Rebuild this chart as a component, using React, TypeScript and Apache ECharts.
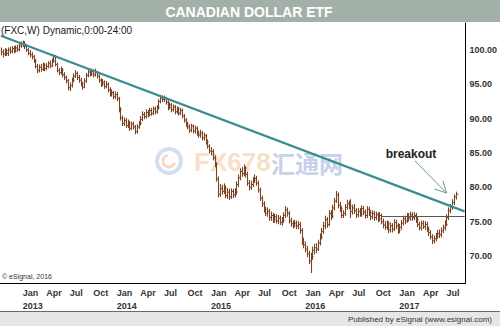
import React, { useEffect, useRef } from 'react';
import * as echarts from 'echarts';

// ---- data (weekly bars of FXC) ----
const firstWeekStart = '2012-10-08'; // Monday of first weekly bar
const weekCount = 257; // weeks spanned by the x axis

const closes = [
  99.7, 99.4, 99.9, 99.5, 100.0, 99.8, 100.2, 99.9, 100.3, 100.1, 100.6, 100.8,
  100.9, 100.5, 100.0, 99.5, 99.3, 99.0, 98.4, 97.6, 97.0, 97.5, 97.2, 97.8, 97.3,
  97.6, 98.0, 97.7, 98.4, 99.0, 97.9, 97.0, 96.7, 97.1, 96.4, 96.0, 95.5, 94.5,
  94.8, 95.6, 96.2, 96.6, 96.0, 95.6, 95.1, 94.6, 95.5, 96.3, 96.8, 96.5, 96.9,
  96.4, 96.7, 96.2, 95.6, 95.0, 95.3, 94.7, 95.0, 94.2, 93.6, 93.8, 93.2, 93.5,
  92.9, 91.3, 90.1, 89.3, 89.7, 89.0, 89.4, 88.6, 89.2, 88.8, 88.1, 88.8, 89.3,
  89.9, 90.6, 90.3, 90.9, 90.6, 91.2, 90.8, 91.4, 91.0, 91.6, 92.5, 93.0, 92.8,
  92.9, 92.4, 91.6, 92.0, 91.3, 91.7, 91.0, 91.4, 90.8, 91.2, 90.4, 89.8, 89.2,
  88.8, 88.3, 88.9, 88.2, 88.6, 87.9, 87.6, 87.9, 87.2, 87.5, 86.6, 86.0, 85.3,
  85.2, 84.3, 83.3, 81.2, 79.0, 79.8, 79.4, 79.9, 78.8, 79.3, 78.6, 79.4, 78.9,
  79.3, 80.4, 81.4, 82.3, 82.0, 82.8, 81.9, 80.6, 80.0, 80.4, 81.0, 81.3, 80.6,
  79.6, 78.4, 77.6, 76.8, 76.2, 76.5, 75.6, 75.9, 75.3, 75.7, 75.1, 75.5, 74.9,
  75.2, 75.9, 76.7, 76.2, 75.1, 74.7, 74.5, 74.8, 74.4, 74.6, 73.7, 72.1, 71.6,
  71.0, 70.3, 69.3, 69.9, 70.8, 71.2, 71.0, 71.9, 72.8, 73.6, 74.4, 75.3, 74.6,
  76.2, 75.8, 77.0, 78.0, 78.9, 77.4, 76.9, 75.9, 76.2, 77.1, 77.6, 77.3, 76.5,
  77.0, 76.6, 76.0, 76.5, 76.1, 76.9, 76.4, 75.9, 76.8, 76.3, 75.7, 76.2, 75.6,
  76.0, 75.4, 75.9, 75.0, 74.5, 74.2, 74.7, 73.8, 74.4, 73.9, 74.9, 74.4, 73.7,
  74.2, 74.8, 75.4, 75.1, 75.8, 75.5, 76.0, 75.6, 75.9, 75.3, 74.6, 74.1, 74.7,
  74.3, 74.6, 73.9, 73.4, 72.8, 72.2, 72.5, 72.9, 73.3, 73.1, 73.7, 74.1, 74.6,
  75.6, 76.6, 77.1, 77.8, 78.6, 79.0,
];

const highs = [
  100.3, 100.0, 100.2, 100.1, 100.3, 100.4, 100.5, 100.5, 100.6, 100.7, 100.9, 101.2,
  101.3, 101.2, 100.8, 100.2, 99.9, 99.6, 99.2, 98.6, 97.9, 97.8, 97.9, 98.1, 98.0,
  98.0, 98.3, 98.4, 98.7, 99.3, 99.2, 98.1, 97.3, 97.5, 97.3, 96.7, 96.2, 95.7,
  95.2, 95.9, 96.5, 97.0, 96.8, 96.3, 95.9, 95.3, 95.8, 96.6, 97.1, 97.1, 97.2,
  97.1, 97.2, 96.9, 96.4, 95.8, 95.7, 95.5, 95.4, 95.2, 94.5, 94.2, 94.0, 93.9,
  93.8, 93.1, 91.6, 90.4, 90.1, 90.0, 89.8, 89.6, 89.5, 89.5, 89.0, 89.1, 89.6,
  90.3, 91.0, 90.9, 91.3, 91.2, 91.5, 91.5, 91.7, 91.7, 91.9, 92.8, 93.4, 93.3,
  93.3, 93.1, 92.6, 92.3, 92.2, 92.0, 91.9, 91.7, 91.6, 91.5, 91.4, 90.6, 90.0,
  89.5, 89.1, 89.2, 89.1, 88.9, 88.8, 88.2, 88.3, 88.1, 87.9, 87.7, 86.9, 86.2,
  85.8, 85.5, 84.6, 83.6, 81.5, 80.4, 80.3, 80.5, 80.2, 79.8, 79.7, 79.8, 79.7,
  79.8, 80.8, 81.8, 82.7, 82.9, 83.3, 83.0, 82.2, 81.0, 80.9, 81.4, 81.8, 81.6,
  80.9, 79.9, 78.7, 77.9, 77.1, 77.0, 76.8, 76.4, 76.2, 76.1, 76.0, 75.9, 75.8,
  75.6, 76.3, 77.2, 77.0, 76.5, 75.5, 75.1, 75.2, 75.1, 75.0, 74.9, 74.0, 72.6,
  72.0, 71.4, 70.7, 70.4, 71.3, 71.7, 71.8, 72.3, 73.2, 74.0, 74.9, 75.8, 75.6,
  76.6, 76.6, 77.4, 78.4, 79.4, 79.2, 77.8, 77.2, 76.6, 77.5, 78.1, 78.0, 78.2,
  77.4, 77.5, 76.9, 76.9, 76.9, 77.3, 77.2, 76.7, 77.2, 77.1, 76.6, 76.6, 76.5,
  76.4, 76.3, 76.3, 76.1, 75.4, 75.0, 75.1, 75.0, 74.8, 74.7, 75.3, 75.2, 74.7,
  74.6, 75.2, 75.8, 75.8, 76.2, 76.2, 76.4, 76.3, 76.3, 76.2, 75.6, 74.9, 75.1,
  75.1, 75.0, 74.9, 74.2, 73.7, 73.1, 72.9, 73.3, 73.7, 73.8, 74.1, 74.5, 75.1,
  76.0, 77.0, 77.5, 78.2, 78.9, 79.3,
];

const lows = [
  99.3, 99.0, 99.2, 99.2, 99.2, 99.5, 99.6, 99.6, 99.7, 99.8, 99.9, 100.4,
  100.5, 100.2, 99.8, 99.3, 99.0, 98.7, 98.2, 97.4, 96.7, 96.8, 96.9, 97.0, 97.0,
  97.1, 97.4, 97.4, 97.6, 98.2, 97.7, 96.8, 96.4, 96.5, 96.1, 95.7, 95.2, 94.2,
  94.1, 94.6, 95.4, 96.0, 95.7, 95.3, 94.8, 94.3, 94.5, 95.3, 96.1, 96.2, 96.3,
  96.1, 96.2, 95.9, 95.3, 94.7, 94.8, 94.4, 94.5, 93.9, 93.3, 93.3, 92.9, 92.9,
  92.6, 91.0, 89.8, 89.0, 89.0, 88.7, 88.7, 88.3, 88.4, 88.5, 87.8, 87.9, 88.6,
  89.1, 89.7, 90.0, 90.1, 90.3, 90.4, 90.5, 90.6, 90.7, 90.8, 91.4, 92.3, 92.5,
  92.5, 92.1, 91.3, 91.4, 91.0, 91.1, 90.7, 90.8, 90.5, 90.6, 90.1, 89.5, 88.9,
  88.5, 88.0, 88.1, 87.9, 87.9, 87.6, 87.3, 87.3, 86.9, 86.9, 86.3, 85.7, 85.0,
  84.7, 84.0, 83.0, 80.9, 78.6, 78.7, 79.0, 79.1, 78.5, 78.4, 78.2, 78.4, 78.5,
  78.6, 79.0, 80.1, 81.1, 81.6, 81.7, 81.5, 80.3, 79.6, 79.7, 80.1, 80.7, 80.3,
  79.3, 78.1, 77.2, 76.4, 75.9, 75.8, 75.2, 75.2, 74.9, 74.9, 74.8, 74.7, 74.6,
  74.5, 74.9, 75.6, 75.8, 74.8, 74.3, 74.1, 74.2, 74.0, 74.0, 73.3, 71.7, 71.2,
  70.6, 69.9, 68.9, 67.6, 69.5, 70.3, 70.5, 70.8, 71.6, 72.5, 73.3, 74.0, 74.2,
  74.4, 75.3, 75.6, 76.7, 77.8, 77.0, 76.5, 75.6, 75.6, 75.9, 76.8, 76.9, 75.6,
  76.1, 76.2, 75.6, 75.7, 75.8, 75.8, 76.0, 75.5, 75.6, 75.9, 75.3, 75.4, 75.2,
  75.3, 75.0, 75.1, 74.7, 74.1, 73.9, 73.9, 73.4, 73.5, 73.5, 73.7, 74.0, 73.3,
  73.4, 73.9, 74.5, 74.7, 74.9, 75.1, 75.2, 75.2, 75.3, 74.9, 74.3, 73.8, 73.8,
  74.0, 73.9, 73.6, 73.0, 72.5, 71.8, 71.9, 72.2, 72.6, 72.7, 72.8, 73.4, 73.8,
  74.4, 75.3, 76.3, 76.8, 77.5, 78.3,
];

const yMin = 66.07;
const yMax = 103.93;
const yStep = 5;
const quarterNames = ['Jan', 'Apr', 'Jul', 'Oct'];
const trendLine = [102.06, 76.5]; // at first and last week of the axis
const supportLevel = 75.75;
const supportStartWeek = 210;

// ---- helpers ----
const DAY = 86400000;
const weeks: string[] = [];
{
  const start = new Date(firstWeekStart + 'T00:00:00Z').getTime();
  for (let i = 0; i < weekCount; i++) {
    weeks.push(new Date(start + i * 7 * DAY).toISOString().slice(0, 10));
  }
}

function quarterLabel(v: string): string | null {
  const d = new Date(v + 'T00:00:00Z').getTime();
  const sun = new Date(d + 6 * DAY);
  if (sun.getUTCDate() > 7) return null;
  const m = sun.getUTCMonth();
  if (m % 3 !== 0) return null;
  const name = quarterNames[m / 3];
  return m === 0 ? name + '\n' + sun.getUTCFullYear() : name;
}

const FONT = '"Liberation Sans", Arial, Helvetica, sans-serif';
const BAR_COLOR = '#7a4323';

export default function App() {
  const ref = useRef<HTMLDivElement>(null);

  useEffect(() => {
    if (!ref.current) return;
    const chart = echarts.init(ref.current, null, { renderer: 'svg' });

    const barData = closes.map((c, i) => [i, lows[i], highs[i], c]);
    const lastIdx = weekCount - 1;

    chart.setOption({
      animation: false,
      backgroundColor: '#ffffff',
      textStyle: { fontFamily: FONT },
      grid: { left: 0, top: 23, right: 33.5, bottom: 43, containLabel: false },
      xAxis: {
        type: 'category',
        data: weeks,
        boundaryGap: true,
        axisLine: { show: true, lineStyle: { color: '#000', width: 1 } },
        axisTick: { show: false },
        splitLine: { show: false },
        axisLabel: {
          interval: (_i: number, v: string) => quarterLabel(v) !== null,
          formatter: (v: string) => quarterLabel(v) || '',
          align: 'left',
          margin: 3,
          fontSize: 9,
          fontWeight: 'bold',
          color: '#333',
          lineHeight: 13,
          fontFamily: FONT,
        },
      },
      yAxis: {
        type: 'value',
        position: 'right',
        min: yMin,
        max: yMax,
        splitNumber: 7,
        scale: true,
        axisLine: { show: true, lineStyle: { color: '#000', width: 1 } },
        axisTick: { show: false },
        splitLine: { show: false },
        axisLabel: {
          margin: 4,
          fontSize: 9,
          fontWeight: 'bold',
          color: '#333',
          fontFamily: FONT,
          showMinLabel: false,
          showMaxLabel: false,
          formatter: (v: number) =>
            Math.abs(v / yStep - Math.round(v / yStep)) < 1e-6 ? v.toFixed(2) : '',
        },
      },
      series: [
        {
          type: 'custom',
          name: 'FXC',
          z: 3,
          silent: true,
          data: barData,
          encode: { x: 0, y: [1, 2, 3] },
          renderItem: (_params: any, api: any) => {
            const idx = api.value(0);
            const lo = api.coord([idx, api.value(1)]);
            const hi = api.coord([idx, api.value(2)]);
            const cl = api.coord([idx, api.value(3)]);
            const x = Math.round(lo[0]) + 0.5;
            return {
              type: 'group',
              children: [
                {
                  type: 'line',
                  shape: { x1: x, y1: lo[1] + 0.5, x2: x, y2: hi[1] - 0.5 },
                  style: { stroke: BAR_COLOR, lineWidth: 1.1 },
                },
                {
                  type: 'line',
                  shape: { x1: x, y1: cl[1], x2: x + 2, y2: cl[1] },
                  style: { stroke: BAR_COLOR, lineWidth: 1 },
                },
              ],
            };
          },
        },
        {
          type: 'line',
          name: 'trend',
          z: 5,
          silent: true,
          symbol: 'none',
          data: [[0, trendLine[0]], [lastIdx, trendLine[1]]],
          lineStyle: { color: '#3a8d90', width: 2.2 },
        },
        {
          type: 'line',
          name: 'support',
          z: 4,
          silent: true,
          symbol: 'none',
          data: [[supportStartWeek, supportLevel], [lastIdx, supportLevel]],
          lineStyle: { color: '#4f5a52', width: 1 },
        },
      ],
      graphic: [
        // watermark
        {
          type: 'ring', z: 0, silent: true,
          shape: { cx: 169, cy: 161, r: 14, r0: 10 },
          style: { fill: '#d3deef' },
        },
        {
          type: 'arc', z: 0, silent: true,
          shape: { cx: 169, cy: 161, r: 6, startAngle: 0.3, endAngle: 4.5 },
          style: { stroke: '#f8d8c0', lineWidth: 3, fill: 'none' },
        },
        {
          type: 'text', z: 0, silent: true, x: 194, y: 162,
          style: {
            text: 'FX678', fill: '#f9dfc8', font: 'bold 26px ' + FONT,
            textAlign: 'left', textVerticalAlign: 'middle',
          },
        },
        {
          type: 'text', z: 0, silent: true, x: 271, y: 162,
          style: {
            text: '汇通网', fill: '#c6d2e8', font: 'bold 24px "Noto Sans CJK SC", sans-serif',
            textAlign: 'left', textVerticalAlign: 'middle',
          },
        },
        // title bar
        {
          type: 'rect', z: 100, silent: true,
          shape: { x: 0, y: 0, width: 500, height: 22 },
          style: { fill: '#a3b0a8' },
        },
        {
          type: 'text', z: 101, silent: true, x: 249, y: 11.5,
          style: {
            text: 'CANADIAN DOLLAR ETF', fill: '#ffffff', font: 'bold 14px ' + FONT,
            textAlign: 'center', textVerticalAlign: 'middle',
          },
        },
        {
          type: 'text', z: 101, silent: true, x: 1, y: 30,
          style: {
            text: '(FXC,W) Dynamic,0:00-24:00', fill: '#1a1a1a', font: '10px ' + FONT,
            textAlign: 'left', textVerticalAlign: 'middle',
          },
        },
        {
          type: 'text', z: 101, silent: true, x: 2, y: 276,
          style: {
            text: '© eSignal, 2016', fill: '#333', font: '7px ' + FONT,
            textAlign: 'left', textVerticalAlign: 'middle',
          },
        },
        // breakout annotation
        {
          type: 'text', z: 101, silent: true, x: 411, y: 154,
          style: {
            text: 'breakout', fill: '#222', font: 'bold 12px ' + FONT,
            textAlign: 'center', textVerticalAlign: 'middle',
          },
        },
        {
          type: 'line', z: 101, silent: true,
          shape: { x1: 415, y1: 161, x2: 446.5, y2: 193 },
          style: { stroke: '#6b9596', lineWidth: 1 },
        },
        {
          type: 'polyline', z: 101, silent: true,
          shape: { points: [[443, 181], [446.5, 193], [434.5, 189]] },
          style: { stroke: '#6b9596', lineWidth: 1, fill: 'none' },
        },
        // footer
        {
          type: 'rect', z: 100, silent: true,
          shape: { x: 0, y: 312, width: 500, height: 14 },
          style: { fill: '#e6e6e6' },
        },
        {
          type: 'line', z: 101, silent: true,
          shape: { x1: 0, y1: 311.5, x2: 500, y2: 311.5 },
          style: { stroke: '#6a6a6a', lineWidth: 1 },
        },
        {
          type: 'text', z: 101, silent: true, x: 492, y: 319,
          style: {
            text: 'Published by eSignal (www.esignal.com)', fill: '#333', font: '8px ' + FONT,
            textAlign: 'right', textVerticalAlign: 'middle',
          },
        },
      ],
    });

    return () => {
      chart.dispose();
    };
  }, []);

  return (
    <div
      ref={ref}
      style={{ position: 'fixed', left: 0, top: 0, width: 500, height: 326, background: '#fff' }}
    />
  );
}
